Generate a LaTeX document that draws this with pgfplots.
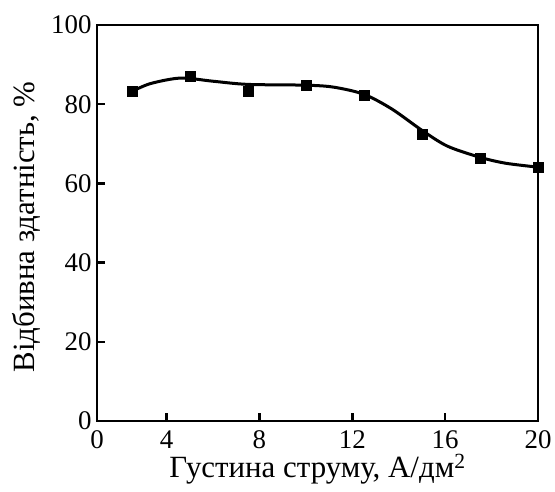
\documentclass[border=0pt]{standalone}
\usepackage{pgfplots}
\pgfplotsset{compat=1.18}
\usepackage{fontspec}
\setmainfont{Liberation Serif}
\begin{document}
\begin{tikzpicture}
\begin{axis}[
  at={(0,0)}, anchor=south west,
  width=441bp, height=396bp, scale only axis,
  xmin=1, xmax=20, ymin=0, ymax=100,
  xtick={1,4,8,12,16,20}, xticklabels={0,4,8,12,16,20},
  ytick={0,20,40,60,80,100},
  tick align=inside, xtick pos=bottom, ytick pos=left,
  major tick length=8bp,
  axis line style={line width=2.5bp},
  every tick/.style={black, line width=2.5bp},
  /pgf/number format/assume math mode=true,
  tick label style={font=\fontsize{27}{27}\selectfont},
  xticklabel style={yshift=-6bp},
  yticklabel style={xshift=-2bp},
  xlabel={Густина струму, А/дм\textsuperscript{2}},
  ylabel={Відбивна здатність, \%},
  label style={font=\fontsize{31}{31}\selectfont},
  xlabel style={at={(axis description cs:0.5,-0.122)}, anchor=center},
  ylabel style={at={(axis description cs:-0.159,0.49)}, anchor=center},
  clip=false,
]
\addplot[black, line width=3bp, smooth, tension=0.5] coordinates {
  (2.5,83.2) (3.3,85.2) (4.6,86.6) (6.0,85.8) (7.5,85.0) (10,84.8)
  (11.2,84.3) (12.5,82.5) (13.7,78.8) (15,73.4) (16.1,69.4) (17.5,66.6)
  (18.6,65.1) (20,64.1)
};
\addplot[only marks, mark=square*, mark size=5bp, black] coordinates {
  (2.5,83.2) (5,87.0) (7.5,83.4) (10,84.8) (12.5,82.2) (15,72.4) (17.5,66.3) (20,64.0)
};
\end{axis}
\pgfresetboundingbox
\path (-97bp,-71bp) rectangle (458bp,421bp);
\end{tikzpicture}
\end{document}
